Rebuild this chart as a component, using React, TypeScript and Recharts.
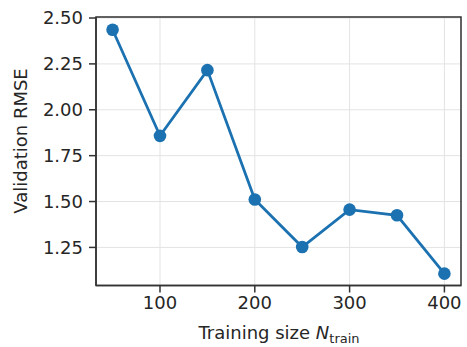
import { LineChart, Line, XAxis, YAxis, CartesianGrid, ReferenceArea } from "recharts";

// training sizes and validation RMSE
const trainSizes = [50, 100, 150, 200, 250, 300, 350, 400];
const rmseValues = [2.436, 1.858, 2.216, 1.511, 1.252, 1.456, 1.425, 1.107];
const xTicks = [100, 200, 300, 400];
const yTicks = [1.25, 1.5, 1.75, 2.0, 2.25, 2.5];

const data = trainSizes.map((n, i) => ({ n, rmse: rmseValues[i] }));

const FONT = "DejaVu Sans, sans-serif";
const tickStyle = { fontSize: 18, fill: "#262626", fontFamily: FONT };
const xDomain = [32.5, 417.5];
const yDomain = [1.0425, 2.5055];

export default function App() {
  return (
    <div style={{ position: "absolute", left: 0, top: 0, background: "#fff" }}>
      <LineChart
        width={467}
        height={347}
        data={data}
        margin={{ top: 17, right: 6, bottom: 0, left: 0 }}
      >
        <CartesianGrid xAxisId="b" yAxisId="l" stroke="#e3e3e3" strokeWidth={1} />
        <XAxis
          xAxisId="b"
          dataKey="n"
          type="number"
          domain={xDomain}
          ticks={xTicks}
          allowDataOverflow
          height={61.5}
          stroke="#333"
          strokeWidth={1.5}
          tickSize={7}
          tickMargin={4}
          tick={tickStyle}
        />
        <YAxis
          yAxisId="l"
          type="number"
          domain={yDomain}
          ticks={yTicks}
          allowDataOverflow
          width={96}
          stroke="#333"
          strokeWidth={1.5}
          tickSize={7}
          tickMargin={6}
          tick={tickStyle}
          tickFormatter={(v: number) => v.toFixed(2)}
        />
        {/* box around the plot area */}
        <ReferenceArea
          xAxisId="b"
          yAxisId="l"
          x1={xDomain[0]}
          x2={xDomain[1]}
          y1={yDomain[0]}
          y2={yDomain[1]}
          fill="none"
          fillOpacity={0}
          stroke="#333"
          strokeWidth={1.5}
          ifOverflow="visible"
        />
        <Line
          xAxisId="b"
          yAxisId="l"
          dataKey="rmse"
          stroke="#1c72b1"
          strokeWidth={2.8}
          dot={{ r: 6.3, fill: "#1c72b1", stroke: "#1c72b1", strokeWidth: 0 }}
          isAnimationActive={false}
        />
        <text
          x={27}
          y={141}
          transform="rotate(-90 27 141)"
          textAnchor="middle"
          fontSize={18}
          fill="#262626"
          fontFamily={FONT}
        >
          Validation RMSE
        </text>
        <text x={279} y={339} textAnchor="middle" fontSize={18} fill="#262626" fontFamily={FONT}>
          Training size <tspan fontStyle="italic">N</tspan>
          <tspan fontSize={13} dy={4}>train</tspan>
        </text>
      </LineChart>
    </div>
  );
}
